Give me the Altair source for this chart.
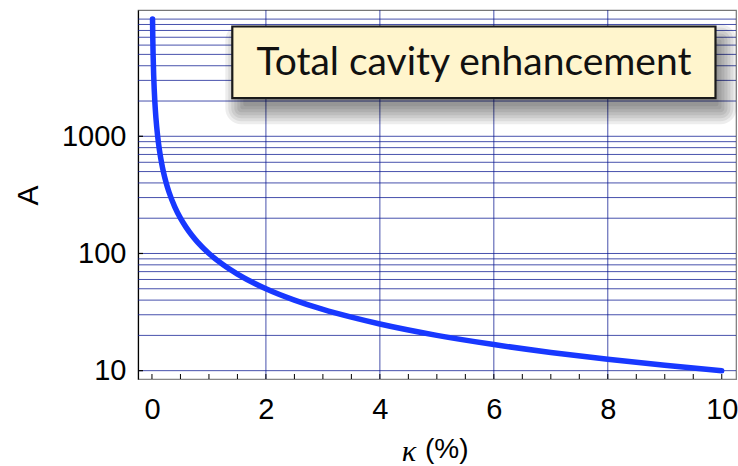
import altair as alt
import pandas as pd

# Enhancement A versus loss kappa (%)
kappa = [0.01, 0.015, 0.02, 0.03, 0.04, 0.05, 0.07, 0.1, 0.13, 0.17, 0.2, 0.25,
         0.3, 0.4, 0.5, 0.6, 0.7, 0.8, 1.0, 1.25, 1.5, 2.0, 2.5, 3.0, 3.5, 4.0,
         5.0, 6.0, 7.0, 8.0, 9.0, 10.0]
enhancement = [10000, 6667, 5000, 3333, 2500, 2000, 1429, 1000, 769, 588, 500, 400,
               333, 250, 200, 167, 143, 125, 100, 80, 66.7, 50, 40, 33.3, 28.6, 25,
               20, 16.7, 14.3, 12.5, 11.1, 10]

# grid and tick positions
y_grid = [10, 20, 30, 40, 50, 60, 70, 80, 90,
          100, 200, 300, 400, 500, 600, 700, 800, 900,
          1000, 2000, 3000, 4000, 5000, 6000, 7000, 8000, 9000, 10000]
x_grid = [2, 4, 6, 8]
x_minor_ticks = [0, 0.5, 1, 1.5, 2, 2.5, 3, 3.5, 4, 4.5, 5, 5.5, 6, 6.5, 7, 7.5,
                 8, 8.5, 9, 9.5, 10]
x_labels = [0, 2, 4, 6, 8, 10]
y_labels = [10, 100, 1000]

# axis title pieces: italic symbol + unit
x_title_symbol = ["κ"]
x_title_unit = ["(%)"]

# annotation box (data coordinates)
box_label = ["Total cavity enhancement"]
box_x = [1.41, 9.89]
box_y = [2113, 8650]

curve_df = pd.DataFrame({"kappa": kappa, "A": enhancement})
ygrid_df = pd.DataFrame({"v": y_grid})
xgrid_df = pd.DataFrame({"v": x_grid})
xtick_df = pd.DataFrame({"v": x_minor_ticks})
ytick_df = pd.DataFrame({"v": y_labels})
box_df = pd.DataFrame({
    "x1": [box_x[0]], "x2": [box_x[1]],
    "y1": [box_y[1]], "y2": [box_y[0]],
    "xm": [(box_x[0] + box_x[1]) / 2],
    "ym": [(box_y[0] * box_y[1]) ** 0.5],
    "label": box_label,
})

xs = alt.Scale(domain=[-0.245, 10.25], nice=False, zero=False)
ys = alt.Scale(type="log", domain=[8.49, 11960], nice=False)
navy = "#0a1790"

x_axis = alt.Axis(
    values=x_labels, title=None, ticks=False, grid=False,
    domainColor="#888888", domainWidth=1.2,
    labelFontSize=29, labelFont="Liberation Sans", labelColor="black",
    labelPadding=16, labelFlush=False,
)
y_axis = alt.Axis(
    values=y_labels, format="d", title="A", ticks=False, grid=False,
    domainColor="black", domainWidth=1.2,
    labelFontSize=29, labelFont="Liberation Sans", labelColor="black",
    labelPadding=12, labelFlush=False,
    titleFontSize=30, titleFont="Liberation Sans", titleFontWeight="normal",
    titleColor="black", titleX=-110, titleY=185, titleBaseline="middle",
    titleAlign="center", titleAngle=270,
)


def X(field):
    return alt.X(field, scale=xs, axis=x_axis)


def Y(field):
    return alt.Y(field, scale=ys, axis=y_axis)


hgrid = alt.Chart(ygrid_df).mark_rule(color=navy, strokeWidth=1, opacity=0.75).encode(
    y=Y("v:Q")
)
vgrid = alt.Chart(xgrid_df).mark_rule(color=navy, strokeWidth=1, opacity=0.75).encode(
    x=X("v:Q")
)
xticks = alt.Chart(xtick_df).mark_rule(color="black", strokeWidth=1).encode(
    x=X("v:Q"), y=alt.value(369), y2=alt.value(364),
)
yticks = alt.Chart(ytick_df).mark_rule(color="black", strokeWidth=1.2).encode(
    y=Y("v:Q"), x=alt.value(0), x2=alt.value(5),
)

curve = alt.Chart(curve_df).mark_line(
    color="#1838ff", strokeWidth=5.5, strokeCap="round", strokeJoin="round",
    interpolate="monotone",
).encode(x=X("kappa:Q"), y=Y("A:Q"))

# soft drop shadow under the annotation box, built from stacked translucent rects
shadow_layers = []
dx, dy = 7, 12
for s in [14, 11, 8, 5, 2, -1, -4]:
    shadow_layers.append(
        alt.Chart(box_df).mark_rect(
            color="black", opacity=0.07, cornerRadius=max(s, 0) + 2,
            xOffset=dx - s, x2Offset=dx + s, yOffset=dy - s, y2Offset=dy + s,
        ).encode(x=X("x1:Q"), x2="x2:Q", y=Y("y1:Q"), y2="y2:Q")
    )

box = alt.Chart(box_df).mark_rect(
    fill="#fff5cd", stroke="#1a1a1a", strokeWidth=2.2,
).encode(x=X("x1:Q"), x2="x2:Q", y=Y("y1:Q"), y2="y2:Q")

box_text = alt.Chart(box_df).mark_text(
    font="Lato", fontSize=39, color="#111111", baseline="alphabetic", dy=13,
).encode(x=X("xm:Q"), y=Y("ym:Q"), text="label:N")

# x-axis title: italic kappa followed by the unit
title_sym = alt.Chart(pd.DataFrame({"t": x_title_symbol})).mark_text(
    font="Liberation Serif", fontStyle="italic", fontSize=30, color="black",
    align="center", baseline="middle",
).encode(x=alt.value(271), y=alt.value(442), text="t:N")
title_unit = alt.Chart(pd.DataFrame({"t": x_title_unit})).mark_text(
    font="Liberation Sans", fontSize=28, color="black",
    align="left", baseline="middle",
).encode(x=alt.value(287), y=alt.value(440), text="t:N")

chart = alt.layer(
    hgrid, vgrid, xticks, yticks, curve, *shadow_layers, box, box_text,
    title_sym, title_unit,
).properties(
    width=598, height=369,
    autosize=alt.AutoSizeParams(type="none"),
    padding={"left": 138, "top": 10, "right": 2, "bottom": 87},
    background="white",
).configure_view(stroke="#777777", strokeWidth=1.2)

chart.save("out.html", embed_options={"renderer": "svg", "actions": False})
